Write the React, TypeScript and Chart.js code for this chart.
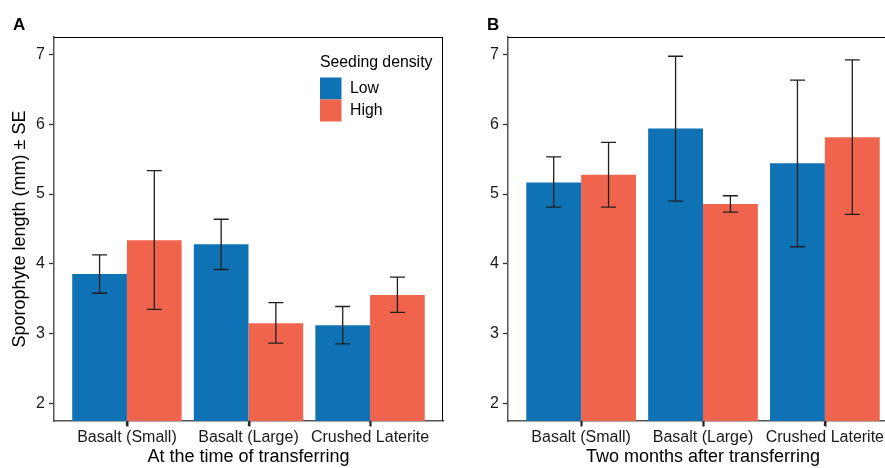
import React, { useEffect, useRef } from "react";
import { Chart, registerables } from "chart.js";

Chart.register(...registerables);

// ---------- data ----------
const categories = ["Basalt (Small)", "Basalt (Large)", "Crushed Laterite"];
const seriesNames = ["Low", "High"];
const legendTitle = "Seeding density";
const yTicks = [2, 3, 4, 5, 6, 7];
const yAxisTitle = "Sporophyte length (mm) \u00b1 SE";

// Panel A: at the time of transferring
const aLowMean = [3.855, 4.28, 3.12];
const aLowUpper = [4.13, 4.64, 3.39];
const aLowLower = [3.58, 3.92, 2.855];
const aHighMean = [4.34, 3.15, 3.555];
const aHighUpper = [5.335, 3.445, 3.81];
const aHighLower = [3.35, 2.865, 3.305];

// Panel B: two months after transferring
const bLowMean = [5.167, 5.94, 5.44];
const bLowUpper = [5.534, 6.974, 6.631];
const bLowLower = [4.814, 4.9, 4.246];
const bHighMean = [5.276, 4.857, 5.815];
const bHighUpper = [5.74, 4.976, 6.921];
const bHighLower = [4.814, 4.742, 4.71];

const LOW_COLOR = "#0F72B4";
const HIGH_COLOR = "#F0644E";
const FONT = "'Liberation Sans', Arial, Helvetica, sans-serif";

type PanelProps = {
  left: number;
  width: number;
  letter: string;
  letterX: number;
  xTitle: string;
  showYTitle: boolean;
  showLegend: boolean;
  lowMean: number[];
  lowUpper: number[];
  lowLower: number[];
  highMean: number[];
  highUpper: number[];
  highLower: number[];
};

function Panel(p: PanelProps) {
  const ref = useRef<HTMLCanvasElement | null>(null);

  useEffect(() => {
    if (!ref.current) return;
    const mk = (vals: number[]) => vals.map((v, i) => ({ x: i + 1, y: v }));
    const errs = [
      { upper: p.lowUpper, lower: p.lowLower },
      { upper: p.highUpper, lower: p.highLower },
    ];
    const colors = [LOW_COLOR, HIGH_COLOR];

    const panelPlugin = {
      id: "panelExtras",
      afterDatasetsDraw(chart: any) {
        const ctx = chart.ctx;
        const ys = chart.scales.y;
        ctx.save();
        ctx.strokeStyle = "#1f1f1f";
        ctx.lineWidth = 1.3;
        chart.data.datasets.forEach((ds: any, di: number) => {
          const meta = chart.getDatasetMeta(di);
          meta.data.forEach((el: any, i: number) => {
            const x = el.x;
            const yTop = ys.getPixelForValue(errs[di].upper[i]);
            const yBot = ys.getPixelForValue(errs[di].lower[i]);
            const half = 7.5;
            ctx.beginPath();
            ctx.moveTo(x, yTop);
            ctx.lineTo(x, yBot);
            ctx.moveTo(x - half, yTop);
            ctx.lineTo(x + half, yTop);
            ctx.moveTo(x - half, yBot);
            ctx.lineTo(x + half, yBot);
            ctx.stroke();
          });
        });
        ctx.restore();
      },
      afterDraw(chart: any) {
        const ctx = chart.ctx;
        const a = chart.chartArea;
        const xs = chart.scales.x;
        ctx.save();
        // top & right frame
        ctx.strokeStyle = "#000";
        ctx.lineWidth = 1;
        ctx.beginPath();
        ctx.moveTo(a.left, a.top + 0.5);
        ctx.lineTo(a.right, a.top + 0.5);
        ctx.moveTo(a.right - 0.5, a.top);
        ctx.lineTo(a.right - 0.5, a.bottom);
        ctx.stroke();
        // category tick marks on the x axis
        ctx.strokeStyle = "#222";
        ctx.lineWidth = 2;
        ctx.beginPath();
        categories.forEach((_, i) => {
          const px = Math.round(xs.getPixelForValue(i + 1)) + 0.5;
          ctx.moveTo(px, a.bottom);
          ctx.lineTo(px, a.bottom + 5.5);
        });
        ctx.stroke();
        // panel letter
        ctx.fillStyle = "#000";
        ctx.font = `bold 17px ${FONT}`;
        ctx.textAlign = "left";
        ctx.textBaseline = "alphabetic";
        ctx.fillText(p.letter, p.letterX, 30);
        // legend
        if (p.showLegend) {
          ctx.font = `15.8px ${FONT}`;
          ctx.fillStyle = "#000";
          ctx.textBaseline = "alphabetic";
          ctx.fillText(legendTitle, 320, 66.5);
          const keyY = [77.5, 99.5];
          seriesNames.forEach((name, i) => {
            ctx.fillStyle = colors[i];
            ctx.fillRect(320, keyY[i], 21.5, 22);
            ctx.fillStyle = "#000";
            ctx.textBaseline = "middle";
            ctx.fillText(name, 350, keyY[i] + 11);
          });
        }
        ctx.restore();
      },
    };

    const chart = new Chart(ref.current, {
      type: "bar",
      data: {
        datasets: [
          {
            label: seriesNames[0],
            data: mk(p.lowMean),
            backgroundColor: LOW_COLOR,
            borderWidth: 0,
          },
          {
            label: seriesNames[1],
            data: mk(p.highMean),
            backgroundColor: HIGH_COLOR,
            borderWidth: 0,
          },
        ],
      },
      options: {
        responsive: false,
        animation: false,
        events: [],
        layout: { padding: { top: 37, right: 7, left: 0, bottom: 0 } },
        datasets: {
          bar: { categoryPercentage: 0.9, barPercentage: 1.0 },
        },
        plugins: {
          legend: { display: false },
          tooltip: { enabled: false },
          title: { display: false },
        },
        scales: {
          x: {
            type: "linear",
            min: 0.4,
            max: 3.6,
            offset: false,
            afterBuildTicks: (s: any) => {
              s.ticks = categories.map((_, i) => ({ value: i + 1 }));
            },
            afterFit: (s: any) => {
              s.height = 47;
            },
            grid: {
              display: true,
              offset: false,
              drawOnChartArea: false,
              drawTicks: true,
              tickLength: 5,
              tickColor: "#333",
              tickWidth: 1.3,
            },
            border: { display: true, color: "#555", width: 1.5 },
            ticks: {
              autoSkip: false,
              maxRotation: 0,
              minRotation: 0,
              padding: 2,
              color: "#1a1a1a",
              font: { family: FONT, size: 16 },
              callback: (v: any) => categories[Math.round(Number(v)) - 1] ?? "",
            },
            title: {
              display: true,
              text: p.xTitle,
              color: "#000",
              font: { family: FONT, size: 18 },
              padding: { top: 0, bottom: 0 },
            },
          },
          y: {
            type: "linear",
            min: 1.75,
            max: 7.25,
            afterBuildTicks: (s: any) => {
              s.ticks = yTicks.map((v) => ({ value: v }));
            },
            afterFit: (s: any) => {
              s.width = 54;
            },
            grid: {
              display: true,
              offset: false,
              drawOnChartArea: false,
              drawTicks: true,
              tickLength: 5,
              tickColor: "#333",
              tickWidth: 1.3,
            },
            border: { display: true, color: "#555", width: 1.5 },
            ticks: {
              padding: 4,
              color: "#1a1a1a",
              font: { family: FONT, size: 16 },
              callback: (v: any) => String(v),
            },
            title: {
              display: p.showYTitle,
              text: yAxisTitle,
              color: "#000",
              font: { family: FONT, size: 18 },
              padding: { top: 9, bottom: 0 },
            },
          },
        },
      },
      plugins: [panelPlugin],
    } as any);

    return () => chart.destroy();
  }, []);

  return (
    <canvas
      ref={ref}
      width={p.width}
      height={468}
      style={{
        position: "absolute",
        left: p.left,
        top: 0,
        width: p.width,
        height: 468,
      }}
    />
  );
}

export default function App() {
  return (
    <div
      style={{
        position: "fixed",
        left: 0,
        top: 0,
        width: 885,
        height: 468,
        overflow: "hidden",
        background: "#fff",
      }}
    >
      <Panel
        left={0}
        width={450}
        letter="A"
        letterX={13}
        xTitle="At the time of transferring"
        showYTitle={true}
        showLegend={true}
        lowMean={aLowMean}
        lowUpper={aLowUpper}
        lowLower={aLowLower}
        highMean={aHighMean}
        highUpper={aHighUpper}
        highLower={aHighLower}
      />
      <Panel
        left={454}
        width={451}
        letter="B"
        letterX={33}
        xTitle="Two months after transferring"
        showYTitle={false}
        showLegend={false}
        lowMean={bLowMean}
        lowUpper={bLowUpper}
        lowLower={bLowLower}
        highMean={bHighMean}
        highUpper={bHighUpper}
        highLower={bHighLower}
      />
    </div>
  );
}
